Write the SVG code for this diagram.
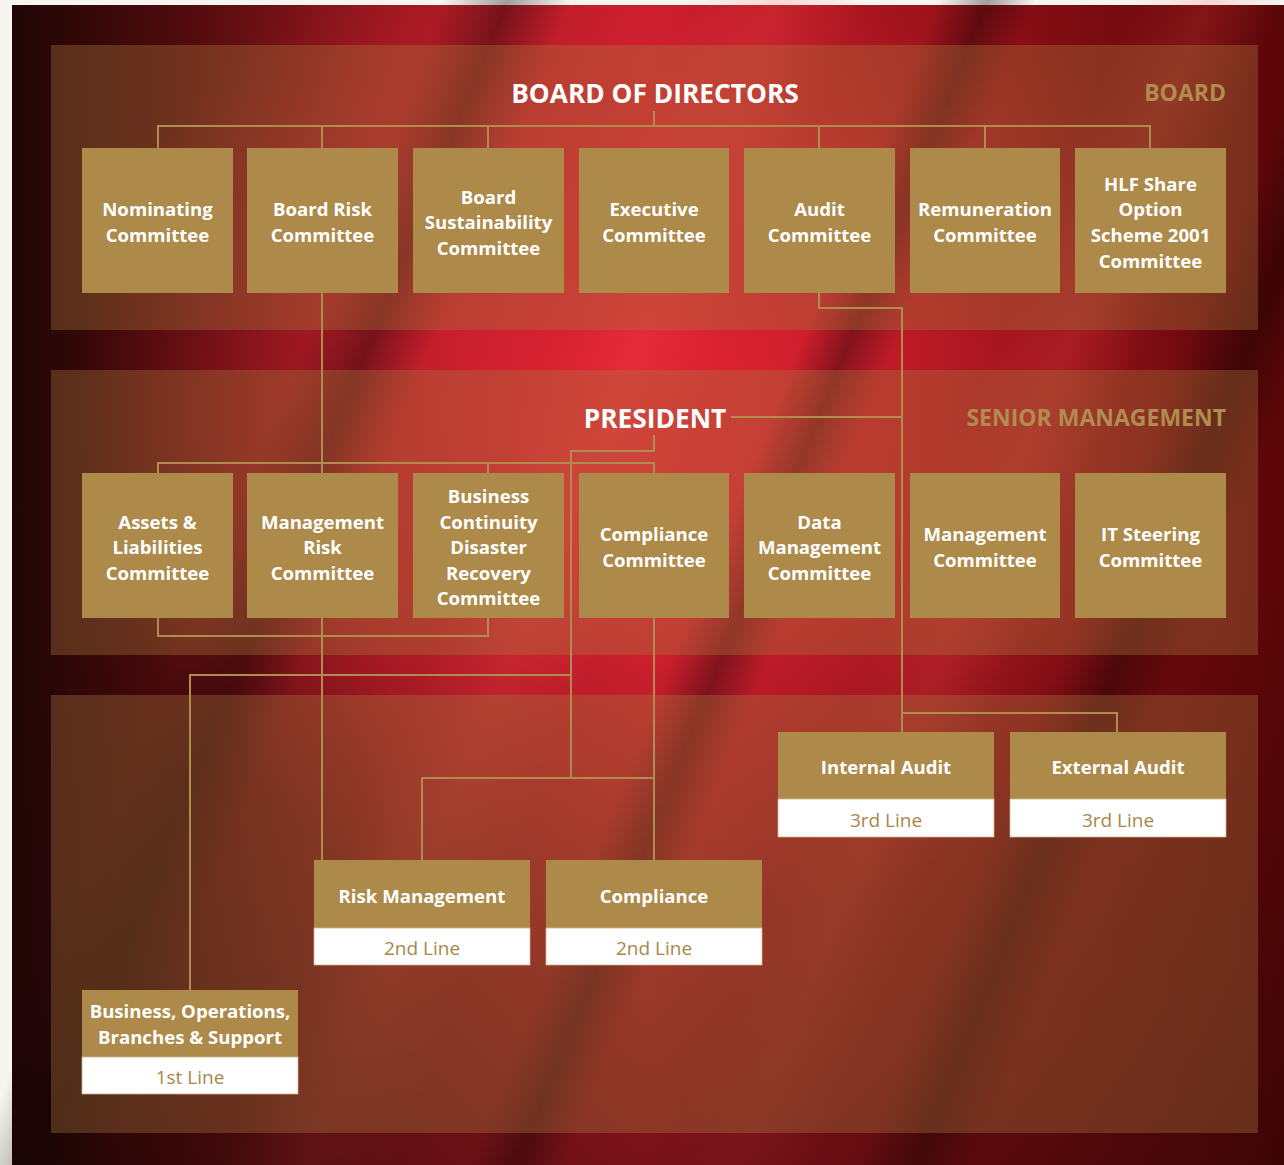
<svg xmlns="http://www.w3.org/2000/svg" width="1284" height="1165" viewBox="0 0 1284 1165">
<defs>
<linearGradient id="bgH" x1="0" y1="0" x2="1" y2="0">
<stop offset="0" stop-color="#200606"/>
<stop offset="0.12" stop-color="#4a0a0c"/>
<stop offset="0.3" stop-color="#9a1820"/>
<stop offset="0.5" stop-color="#c81e2c"/>
<stop offset="0.7" stop-color="#9a121a"/>
<stop offset="1" stop-color="#5a0608"/>
</linearGradient>
<radialGradient id="glow" cx="0.5" cy="0.35" r="0.45">
<stop offset="0" stop-color="#e62436" stop-opacity="0.85"/>
<stop offset="1" stop-color="#e62436" stop-opacity="0"/>
</radialGradient>
<linearGradient id="darkB" x1="0" y1="0" x2="0" y2="1">
<stop offset="0.5" stop-color="#1a0404" stop-opacity="0"/>
<stop offset="1" stop-color="#1a0404" stop-opacity="0.45"/>
</linearGradient>
<linearGradient id="streak" x1="0" y1="0" x2="1" y2="0">
<stop offset="0" stop-color="#000" stop-opacity="0"/>
<stop offset="0.5" stop-color="#000" stop-opacity="0.35"/>
<stop offset="1" stop-color="#000" stop-opacity="0"/>
</linearGradient>
<linearGradient id="streakL" x1="0" y1="0" x2="1" y2="0">
<stop offset="0" stop-color="#ff5050" stop-opacity="0"/>
<stop offset="0.5" stop-color="#ff5050" stop-opacity="0.18"/>
<stop offset="1" stop-color="#ff5050" stop-opacity="0"/>
</linearGradient>
</defs>
<style>
.panel{fill:#aa783c;fill-opacity:0.36}
.box{fill:#ad8a4a}
.sub{fill:#ffffff;stroke:#c9b28a;stroke-width:0.8}
.t{font-family:"Open Sans","Liberation Sans",sans-serif;font-weight:700;font-size:18.6px;fill:#ffffff;text-anchor:middle}
.s{font-family:"Open Sans","Liberation Sans",sans-serif;font-weight:400;font-size:19px;fill:#a8874a;text-anchor:middle}
.h{font-family:"Open Sans","Liberation Sans",sans-serif;font-weight:700;font-size:26.3px;fill:#ffffff;text-anchor:middle}
.g{font-family:"Open Sans","Liberation Sans",sans-serif;font-weight:700;font-size:23px;fill:#b08d4e;text-anchor:end}
.ln{fill:none;stroke:#b08d4e;stroke-width:2}
</style>
<rect x="0" y="0" width="1284" height="1165" fill="#f7f5f0"/>
<g id="background">
<rect x="12" y="5" width="1272" height="1160" fill="url(#bgH)"/>
<rect x="12" y="5" width="1272" height="1160" fill="url(#glow)"/>
<g transform="rotate(22 640 580)">
<rect x="240" y="-300" width="120" height="1800" fill="url(#streak)"/>
<rect x="470" y="-300" width="160" height="1800" fill="url(#streakL)"/>
<rect x="700" y="-300" width="90" height="1800" fill="url(#streak)"/>
<rect x="880" y="-300" width="140" height="1800" fill="url(#streakL)"/>
<rect x="1060" y="-300" width="110" height="1800" fill="url(#streak)"/>
</g>
<rect x="12" y="5" width="1272" height="1160" fill="url(#darkB)"/>
</g>
<g id="panels">
<rect class="panel" x="51" y="45" width="1207" height="285"/>
<rect class="panel" x="51" y="370" width="1207" height="285"/>
<rect class="panel" x="51" y="695" width="1207" height="438"/>
</g>
<g id="connectors">
<path class="ln" d="M654 111V126M158 148V126H1150V148M322 126V148M488 126V148M819 126V148M985 126V148"/>
<path class="ln" d="M322 293V860"/>
<path class="ln" d="M819 293V308H902V732M902 417H731M902 713H1117V732"/>
<path class="ln" d="M654 435V451H571V778M422 860V778H654V860M571 675H190V990"/>
<path class="ln" d="M158 473V463H654V473M322 463V473M488 463V473"/>
<path class="ln" d="M654 618V778"/>
<path class="ln" d="M158 618V636H488V618"/>
</g>
<g id="labels">
<text class="h" x="655" y="103">BOARD OF DIRECTORS</text>
<text class="g" x="1226" y="101">BOARD</text>
<text class="h" x="655" y="428">PRESIDENT</text>
<text class="g" x="1226" y="426">SENIOR MANAGEMENT</text>
</g>
<g id="nominating"><rect class="box" x="82" y="148" width="151" height="145"/><text class="t" x="157.5" y="216">Nominating</text><text class="t" x="157.5" y="242">Committee</text></g>
<g id="board-risk"><rect class="box" x="247" y="148" width="151" height="145"/><text class="t" x="322.5" y="216">Board Risk</text><text class="t" x="322.5" y="242">Committee</text></g>
<g id="board-sustainability"><rect class="box" x="413" y="148" width="151" height="145"/><text class="t" x="488.5" y="204">Board</text><text class="t" x="488.5" y="229">Sustainability</text><text class="t" x="488.5" y="255">Committee</text></g>
<g id="executive"><rect class="box" x="579" y="148" width="150" height="145"/><text class="t" x="654" y="216">Executive</text><text class="t" x="654" y="242">Committee</text></g>
<g id="audit"><rect class="box" x="744" y="148" width="151" height="145"/><text class="t" x="819.5" y="216">Audit</text><text class="t" x="819.5" y="242">Committee</text></g>
<g id="remuneration"><rect class="box" x="910" y="148" width="150" height="145"/><text class="t" x="985" y="216">Remuneration</text><text class="t" x="985" y="242">Committee</text></g>
<g id="hlf"><rect class="box" x="1075" y="148" width="151" height="145"/><text class="t" x="1150.5" y="191">HLF Share</text><text class="t" x="1150.5" y="216">Option</text><text class="t" x="1150.5" y="242">Scheme 2001</text><text class="t" x="1150.5" y="268">Committee</text></g>
<g id="alco"><rect class="box" x="82" y="473" width="151" height="145"/><text class="t" x="157.5" y="529">Assets &amp;</text><text class="t" x="157.5" y="554">Liabilities</text><text class="t" x="157.5" y="580">Committee</text></g>
<g id="mgmt-risk"><rect class="box" x="247" y="473" width="151" height="145"/><text class="t" x="322.5" y="529">Management</text><text class="t" x="322.5" y="554">Risk</text><text class="t" x="322.5" y="580">Committee</text></g>
<g id="bcdr"><rect class="box" x="413" y="473" width="151" height="145"/><text class="t" x="488.5" y="503">Business</text><text class="t" x="488.5" y="529">Continuity</text><text class="t" x="488.5" y="554">Disaster</text><text class="t" x="488.5" y="580">Recovery</text><text class="t" x="488.5" y="605">Committee</text></g>
<g id="compliance-committee"><rect class="box" x="579" y="473" width="150" height="145"/><text class="t" x="654" y="541">Compliance</text><text class="t" x="654" y="567">Committee</text></g>
<g id="data-mgmt"><rect class="box" x="744" y="473" width="151" height="145"/><text class="t" x="819.5" y="529">Data</text><text class="t" x="819.5" y="554">Management</text><text class="t" x="819.5" y="580">Committee</text></g>
<g id="mgmt-committee"><rect class="box" x="910" y="473" width="150" height="145"/><text class="t" x="985" y="541">Management</text><text class="t" x="985" y="567">Committee</text></g>
<g id="it-steering"><rect class="box" x="1075" y="473" width="151" height="145"/><text class="t" x="1150.5" y="541">IT Steering</text><text class="t" x="1150.5" y="567">Committee</text></g>
<g id="internal-audit"><rect class="box" x="778" y="732" width="216" height="67"/><rect class="sub" x="778" y="799" width="216" height="38"/><text class="t" x="886" y="774">Internal Audit</text><text class="s" x="886" y="827">3rd Line</text></g>
<g id="external-audit"><rect class="box" x="1010" y="732" width="216" height="67"/><rect class="sub" x="1010" y="799" width="216" height="38"/><text class="t" x="1118" y="774">External Audit</text><text class="s" x="1118" y="827">3rd Line</text></g>
<g id="risk-management"><rect class="box" x="314" y="860" width="216" height="68"/><rect class="sub" x="314" y="928" width="216" height="37"/><text class="t" x="422" y="903">Risk Management</text><text class="s" x="422" y="955">2nd Line</text></g>
<g id="compliance"><rect class="box" x="546" y="860" width="216" height="68"/><rect class="sub" x="546" y="928" width="216" height="37"/><text class="t" x="654" y="903">Compliance</text><text class="s" x="654" y="955">2nd Line</text></g>
<g id="business-ops"><rect class="box" x="82" y="990" width="216" height="67"/><rect class="sub" x="82" y="1057" width="216" height="37"/><text class="t" x="190" y="1018">Business, Operations,</text><text class="t" x="190" y="1044">Branches &amp; Support</text><text class="s" x="190" y="1084">1st Line</text></g>
</svg>
